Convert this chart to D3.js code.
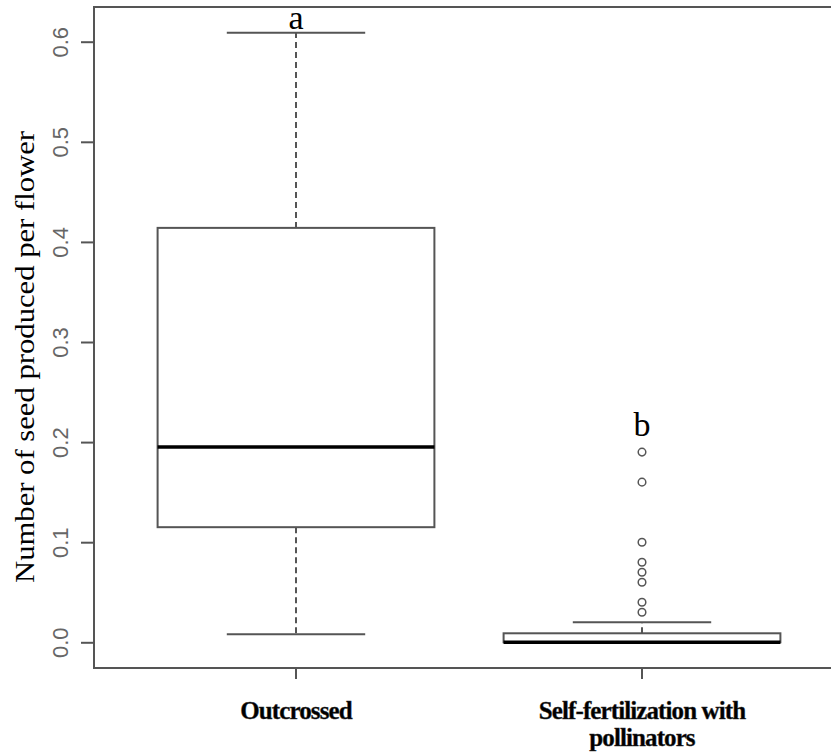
<!DOCTYPE html>
<html>
<head>
<meta charset="utf-8">
<script src="https://cdn.jsdelivr.net/npm/d3@7"></script>
<style>
  html, body { margin: 0; padding: 0; background: #fff; }
  svg { display: block; }
</style>
</head>
<body>
<svg id="chart" width="831" height="753"></svg>
<script>
// ---- data ----
const categories = ["Outcrossed", "Self-fertilization with pollinators"];
const categoryLines = [["Outcrossed"], ["Self-fertilization with", "pollinators"]];
const whiskerLow  = [0.008, 0.0];
const q1          = [0.115, 0.0];
const median      = [0.195, 0.0];
const q3          = [0.414, 0.009];
const whiskerHigh = [0.609, 0.02];
const outliers    = [[], [0.19, 0.16, 0.10, 0.08, 0.07, 0.06, 0.04, 0.03]];
const letters     = ["a", "b"];
const letterAt    = [0.613, 0.206];
const yTicks      = [0, 0.1, 0.2, 0.3, 0.4, 0.5, 0.6];
const yTitle      = "Number of seed produced per flower";

// ---- layout ----
const svg = d3.select("#chart");
const frame = { left: 94, top: 7, right: 836, bottom: 668 };
const y = d3.scaleLinear().domain([0, 0.6]).range([642.3, 41.7]);
const x = d3.scaleBand().domain(categories).range([123, 815]);
const bw = x.bandwidth();
const cx = c => x(c) + bw / 2;
const lineCol = "#555";

// frame
svg.append("rect")
  .attr("x", frame.left).attr("y", frame.top)
  .attr("width", frame.right - frame.left).attr("height", frame.bottom - frame.top)
  .attr("fill", "none").attr("stroke", lineCol).attr("stroke-width", 2);

// y axis
const yAxis = svg.append("g").attr("transform", `translate(${frame.left},0)`)
  .call(d3.axisLeft(y).tickValues(yTicks).tickFormat(d3.format(".1f")).tickSize(13).tickSizeOuter(0));
yAxis.select(".domain").remove();
yAxis.selectAll(".tick line").attr("stroke", lineCol).attr("stroke-width", 2);
yAxis.selectAll(".tick text").remove();
yAxis.selectAll(".tick").append("text")
  .attr("transform", "translate(-26,0) rotate(-90)")
  .attr("text-anchor", "middle")
  .attr("fill", "#666")
  .style("font-family", "'Liberation Sans', Arial, sans-serif")
  .style("font-size", "22px")
  .text(d => d3.format(".1f")(d));

// y title
svg.append("text")
  .attr("transform", `translate(34,357) rotate(-90)`)
  .attr("text-anchor", "middle")
  .attr("fill", "#000")
  .attr("textLength", 452).attr("lengthAdjust", "spacingAndGlyphs")
  .style("font-family", "'Liberation Serif', 'Times New Roman', serif")
  .style("font-size", "27px")
  .text(yTitle);

// x axis ticks
const xAxis = svg.append("g").attr("transform", `translate(0,${frame.bottom})`)
  .call(d3.axisBottom(x).tickSize(11).tickSizeOuter(0).tickFormat(""));
xAxis.select(".domain").remove();
xAxis.selectAll(".tick line").attr("stroke", lineCol).attr("stroke-width", 2);

// x labels
categories.forEach((c, i) => {
  const t = svg.append("text")
    .attr("x", cx(c)).attr("y", 719)
    .attr("text-anchor", "middle")
    .attr("fill", "#000")
    .attr("stroke", "#333").attr("stroke-width", 0.4)
    .style("font-family", "'Liberation Serif', 'Times New Roman', serif")
    .style("font-weight", "bold")
    .style("font-size", "25px")
    .style("letter-spacing", "-0.9px");
  categoryLines[i].forEach((ln, j) => {
    t.append("tspan").attr("x", cx(c)).attr("dy", j === 0 ? 0 : 27).text(ln);
  });
});

// boxes
const boxes = svg.append("g");
categories.forEach((c, i) => {
  const xc = cx(c);
  const hw = bw * 0.4;
  const cw = bw * 0.2;
  const g = boxes.append("g");
  // whiskers (dashed)
  g.append("line").attr("x1", xc).attr("x2", xc).attr("y1", y(q3[i])).attr("y2", y(whiskerHigh[i]))
    .attr("stroke", lineCol).attr("stroke-width", 2).attr("stroke-dasharray", "6,4");
  g.append("line").attr("x1", xc).attr("x2", xc).attr("y1", y(q1[i])).attr("y2", y(whiskerLow[i]))
    .attr("stroke", lineCol).attr("stroke-width", 2).attr("stroke-dasharray", "6,4");
  // caps
  [whiskerLow[i], whiskerHigh[i]].forEach(v => {
    if (i === 1 && v === q1[i]) return;
    g.append("line").attr("x1", xc - cw).attr("x2", xc + cw).attr("y1", y(v)).attr("y2", y(v))
      .attr("stroke", lineCol).attr("stroke-width", 2);
  });
  // box
  g.append("rect").attr("x", xc - hw).attr("y", y(q3[i]))
    .attr("width", 2 * hw).attr("height", y(q1[i]) - y(q3[i]))
    .attr("fill", "#fff").attr("stroke", lineCol).attr("stroke-width", 2);
  // median
  g.append("line").attr("x1", xc - hw).attr("x2", xc + hw).attr("y1", y(median[i])).attr("y2", y(median[i]))
    .attr("stroke", "#000").attr("stroke-width", 3.5);
  // outliers
  g.selectAll("circle").data(outliers[i]).join("circle")
    .attr("cx", xc).attr("cy", d => y(d)).attr("r", 3.8)
    .attr("fill", "none").attr("stroke", lineCol).attr("stroke-width", 1.5);
  // letters
  g.append("text").attr("x", xc).attr("y", y(letterAt[i]))
    .attr("text-anchor", "middle").attr("fill", "#000")
    .style("font-family", "'Liberation Serif', 'Times New Roman', serif")
    .style("font-size", "34px")
    .text(letters[i]);
});
</script>
</body>
</html>
